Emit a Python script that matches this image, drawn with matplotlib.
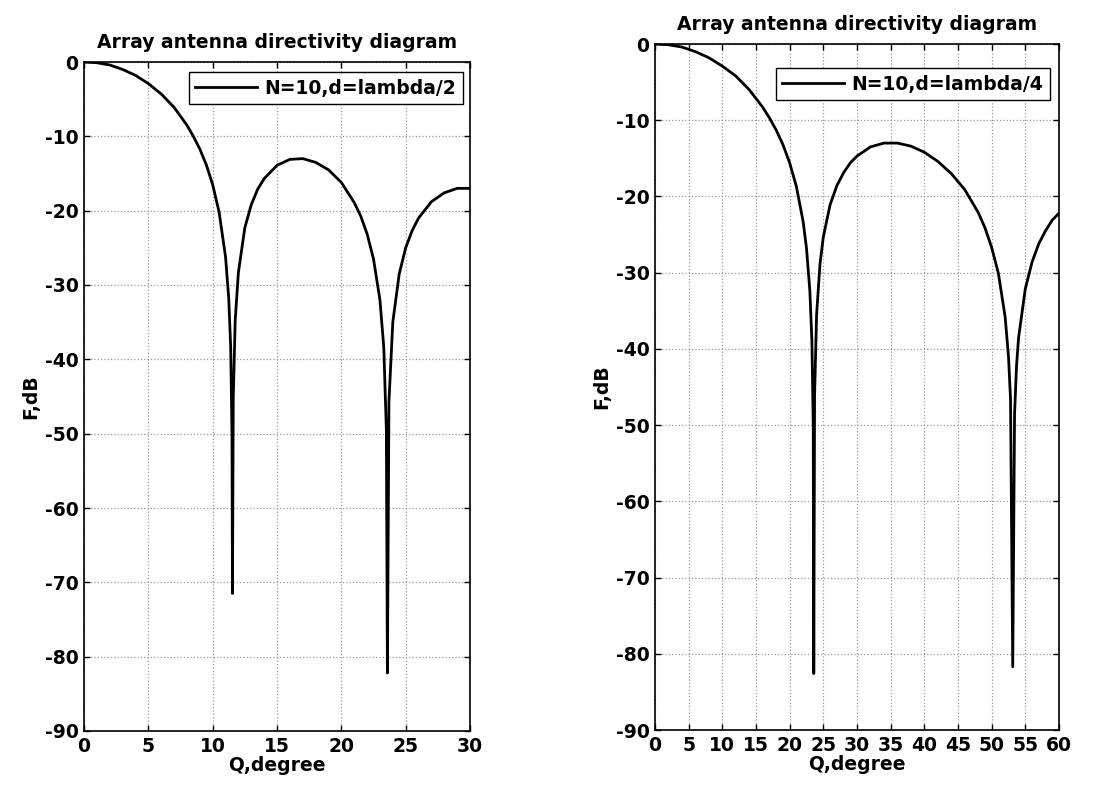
import matplotlib
matplotlib.use("Agg")
import matplotlib.pyplot as plt

# angle (degrees) and level (dB), N=10, d=lambda/2
theta_half = [0, 1, 2, 3, 4, 5, 6, 7, 8, 8.5, 9, 9.5, 10, 10.5, 11, 11.25, 11.4,
              11.5, 11.54, 11.6, 11.75, 12, 12.5, 13, 13.5, 14, 15, 16, 17, 18,
              19, 20, 21, 21.5, 22, 22.5, 23, 23.3, 23.5, 23.58, 23.7, 24, 24.5,
              25, 25.5, 26, 27, 28, 29, 30]
level_half = [0, -0.1, -0.4, -1.0, -1.8, -2.9, -4.3, -6.1, -8.5, -10.0, -11.7,
              -13.8, -16.5, -20.2, -26.2, -31.8, -38.4, -49.9, -71.5, -45.3,
              -34.8, -28.3, -22.3, -19.2, -17.1, -15.7, -13.9, -13.1, -13.0,
              -13.5, -14.5, -16.2, -18.9, -20.7, -23.1, -26.5, -32.0, -38.4,
              -49.5, -82.2, -45.7, -35.0, -28.5, -25.0, -22.7, -21.0, -18.8,
              -17.6, -17.0, -17.0]

# angle (degrees) and level (dB), N=10, d=lambda/4
theta_quarter = [0, 2, 4, 6, 8, 10, 12, 14, 16, 17, 18, 19, 20, 21, 22, 22.5, 23,
                 23.3, 23.5, 23.58, 23.7, 24, 24.5, 25, 26, 27, 28, 29, 30, 32,
                 34, 35, 36, 38, 40, 42, 44, 46, 48, 49, 50, 51, 52, 52.5, 52.8,
                 53.13, 53.4, 53.7, 54, 55, 56, 57, 58, 59, 60]
level_quarter = [0, -0.1, -0.4, -1.0, -1.8, -2.9, -4.2, -6.0, -8.3, -9.7, -11.3,
                 -13.2, -15.6, -18.7, -23.3, -26.8, -32.4, -38.9, -50.0, -82.6,
                 -46.1, -35.5, -28.9, -25.3, -21.1, -18.6, -16.9, -15.6, -14.7,
                 -13.5, -13.0, -13.0, -13.0, -13.4, -14.2, -15.4, -17.0, -19.1,
                 -22.1, -24.1, -26.7, -30.1, -35.8, -41.0, -46.6, -81.7, -48.5,
                 -42.1, -38.5, -32.1, -28.6, -26.2, -24.5, -23.1, -22.2]

labels = ["N=10,d=lambda/2", "N=10,d=lambda/4"]
x_ticks_half = list(range(0, 31, 5))
x_ticks_quarter = list(range(0, 61, 5))
y_ticks = list(range(-90, 1, 10))

W, H = 1097, 787
# the reference text is wide bold, DejaVu bold is the closest in width
plt.rcParams["font.family"] = ["DejaVu Sans"]
plt.rcParams["font.weight"] = "bold"
plt.rcParams["axes.unicode_minus"] = False


def draw_panel(fig, box, theta, level, label, xticks, legend_box):
    # box is (left, top, right, bottom) in pixels of the figure
    left, top, right, bottom = box
    ax = fig.add_axes([left / W, 1 - bottom / H, (right - left) / W, (bottom - top) / H])
    ax.plot(theta, level, color="black", linewidth=2.0, label=label)

    ax.set_xlim(xticks[0], xticks[-1])
    ax.set_ylim(-90, 0)
    ax.set_xticks(xticks)
    ax.set_yticks(y_ticks)
    ax.tick_params(direction="in", top=True, right=True, length=4, width=1,
                   labelsize=13.5, pad=4)
    for lab in ax.get_xticklabels() + ax.get_yticklabels():
        lab.set_fontweight("bold")
    for sp in ax.spines.values():
        sp.set_linewidth(1.2)

    # matlab style dotted grid
    ax.grid(True, color="#999999", linestyle=":", linewidth=0.9)

    ax.set_title("Array antenna directivity diagram", fontsize=13.5,
                 fontweight="bold", pad=10)
    ax.set_xlabel("Q,degree", fontsize=13.5, fontweight="bold", labelpad=0)
    ax.set_ylabel("F,dB", fontsize=13.5, fontweight="bold", labelpad=3)

    # legend placed by its upper right corner
    lx, ly = legend_box
    leg = ax.legend(loc="upper right",
                    bbox_to_anchor=((lx - left) / (right - left), (bottom - ly) / (bottom - top)),
                    borderaxespad=0, fancybox=False, framealpha=1,
                    edgecolor="black", handlelength=3.3, handletextpad=0.4,
                    borderpad=0.35, prop={"size": 13.5, "weight": "bold"})
    leg.get_frame().set_linewidth(1.0)
    return ax


fig = plt.figure(figsize=(W / 100, H / 100), dpi=100)

draw_panel(fig, (84, 62, 470, 731), theta_half, level_half, labels[0],
           x_ticks_half, (463, 72))
draw_panel(fig, (655, 44, 1059, 730), theta_quarter, level_quarter, labels[1],
           x_ticks_quarter, (1050, 68))

fig.savefig("out.png", dpi=100)
